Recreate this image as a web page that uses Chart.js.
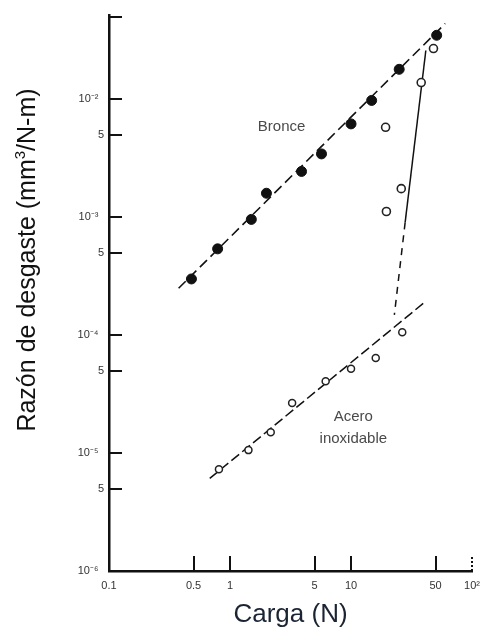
<!DOCTYPE html>
<html>
<head>
<meta charset="utf-8">
<script src="https://cdn.jsdelivr.net/npm/chart.js@4.4.1/dist/chart.umd.min.js"></script>
<style>
    html, body { margin: 0; padding: 0; background: #fff; }
    #grafico { display: block; }
</style>
</head>
<body>
<canvas id="grafico" width="488" height="630"></canvas>
<script>
// Bronce: puntos llenos (carga en N, razón de desgaste en mm3/N-m)
const bronceCarga = [0.48, 0.79, 1.5, 2.0, 3.9, 5.7, 10, 14.8, 25, 51];
const bronceDesgaste = [3.0e-4, 5.4e-4, 9.6e-4, 1.6e-3, 2.45e-3, 3.45e-3, 6.2e-3, 9.8e-3, 1.8e-2, 3.5e-2];
// Bronce: recta de ajuste a trazos
const bronceAjusteCarga = [0.376, 60];
const bronceAjusteDesgaste = [2.5e-4, 4.4e-2];

// Puntos huecos de la transición
const transicionCarga = [19.3, 19.6, 26, 38, 48];
const transicionDesgaste = [5.8e-3, 1.12e-3, 1.75e-3, 1.39e-2, 2.7e-2];
// Línea de transición (tramo continuo arriba, a trazos abajo)
const transicionLineaCarga = [41.5, 28, 22.8];
const transicionLineaDesgaste = [2.6e-2, 9.06e-4, 1.49e-4];

// Acero inoxidable
const aceroCarga = [0.81, 1.42, 2.17, 3.26, 6.17, 10, 16, 26.5];
const aceroDesgaste = [7.3e-6, 1.06e-5, 1.5e-5, 2.66e-5, 4.06e-5, 5.2e-5, 6.4e-5, 1.06e-4];
const aceroAjusteCarga = [0.68, 41.5];
const aceroAjusteDesgaste = [6.1e-6, 1.94e-4];

// Marcas de los ejes
const xTicks = [0.1, 0.5, 1, 5, 10, 50, 100];
const xTickLabels = ['0.1', '0.5', '1', '5', '10', '50', '10²'];
const yTicks = [1e-6, 5e-6, 1e-5, 5e-5, 1e-4, 5e-4, 1e-3, 5e-3, 1e-2, 5e-2];
const yTickLabels = ['10⁻⁶', '5', '10⁻⁵', '5', '10⁻⁴', '5', '10⁻³', '5', '10⁻²', ''];

// Etiquetas dentro del gráfico
const etiquetas = ['Bronce', 'Acero', 'inoxidable'];
const etiquetasCarga = [2.67, 10.45, 10.45];
const etiquetasDesgaste = [5.8e-3, 2.02e-5, 1.32e-5];

const fuente = '"Liberation Sans", Arial, sans-serif';
Chart.defaults.font.family = fuente;

function puntos(xs, ys) {
    return xs.map((x, i) => ({ x: x, y: ys[i] }));
}

// Marcas hacia dentro, textos del gráfico y título del eje Y
const marcasInternas = {
    id: 'marcasInternas',
    afterDraw(chart) {
        const ctx = chart.ctx;
        const sx = chart.scales.x;
        const sy = chart.scales.y;
        const area = chart.chartArea;
        ctx.save();
        ctx.strokeStyle = '#111';
        ctx.lineWidth = 2;
        xTicks.forEach(v => {
            if (v === xTicks[0]) return;
            const px = Math.round(sx.getPixelForValue(v));
            ctx.setLineDash(v === 100 ? [2, 2] : []);
            ctx.beginPath();
            ctx.moveTo(px, area.bottom);
            ctx.lineTo(px, area.bottom - 15);
            ctx.stroke();
        });
        ctx.setLineDash([]);
        yTicks.forEach(v => {
            if (v === yTicks[0]) return;
            const py = Math.round(sy.getPixelForValue(v));
            ctx.beginPath();
            ctx.moveTo(area.left, py);
            ctx.lineTo(area.left + 13, py);
            ctx.stroke();
        });

        ctx.fillStyle = '#4a4a4a';
        ctx.font = '15px ' + fuente;
        ctx.textAlign = 'center';
        ctx.textBaseline = 'middle';
        etiquetas.forEach((t, i) => {
            ctx.fillText(t, sx.getPixelForValue(etiquetasCarga[i]), sy.getPixelForValue(etiquetasDesgaste[i]));
        });

        // título del eje Y con el 3 en superíndice
        const parte1 = 'Razón de desgaste (mm';
        const parte2 = '3';
        const parte3 = '/N-m)';
        ctx.fillStyle = '#111';
        ctx.textAlign = 'left';
        ctx.textBaseline = 'alphabetic';
        ctx.font = '25px ' + fuente;
        const w1 = ctx.measureText(parte1).width;
        const w3 = ctx.measureText(parte3).width;
        ctx.font = '15px ' + fuente;
        const w2 = ctx.measureText(parte2).width;
        const total = w1 + w2 + w3;
        ctx.translate(35, 260);
        ctx.rotate(-Math.PI / 2);
        let x0 = -total / 2;
        ctx.font = '25px ' + fuente;
        ctx.fillText(parte1, x0, 0);
        ctx.font = '15px ' + fuente;
        ctx.fillText(parte2, x0 + w1, -10);
        ctx.font = '25px ' + fuente;
        ctx.fillText(parte3, x0 + w1 + w2, 0);
        ctx.restore();
    }
};

const ctx = document.getElementById('grafico').getContext('2d');
new Chart(ctx, {
    type: 'scatter',
    data: {
        datasets: [
            {
                label: 'Bronce',
                data: puntos(bronceCarga, bronceDesgaste),
                pointRadius: 5,
                pointBackgroundColor: '#111',
                pointBorderColor: '#111',
                pointBorderWidth: 1
            },
            {
                label: 'Transición',
                data: puntos(transicionCarga, transicionDesgaste),
                pointRadius: 4,
                pointBackgroundColor: '#fff',
                pointBorderColor: '#222',
                pointBorderWidth: 1.6
            },
            {
                label: 'Acero inoxidable',
                data: puntos(aceroCarga, aceroDesgaste),
                pointRadius: 3.5,
                pointBackgroundColor: '#fff',
                pointBorderColor: '#222',
                pointBorderWidth: 1.5
            },
            {
                label: 'Ajuste bronce',
                data: puntos(bronceAjusteCarga, bronceAjusteDesgaste),
                showLine: true,
                borderColor: '#111',
                borderWidth: 1.6,
                borderDash: [10, 5],
                pointRadius: 0
            },
            {
                label: 'Línea transición',
                data: puntos(transicionLineaCarga, transicionLineaDesgaste),
                showLine: true,
                borderColor: '#111',
                borderWidth: 1.5,
                pointRadius: 0,
                segment: {
                    borderDash: c => c.p0DataIndex === 0 ? [] : [7, 6]
                }
            },
            {
                label: 'Ajuste acero',
                data: puntos(aceroAjusteCarga, aceroAjusteDesgaste),
                showLine: true,
                borderColor: '#111',
                borderWidth: 1.5,
                borderDash: [10, 4],
                pointRadius: 0
            }
        ]
    },
    options: {
        responsive: false,
        animation: false,
        layout: { padding: { top: 15, right: 15, bottom: 0, left: 0 } },
        scales: {
            x: {
                type: 'logarithmic',
                position: 'bottom',
                min: 0.1,
                max: 100,
                afterBuildTicks: scale => { scale.ticks = xTicks.map(v => ({ value: v })); },
                afterFit: scale => { scale.height = 59; },
                grid: { drawOnChartArea: false, drawTicks: false },
                border: { display: true, color: '#111', width: 2.5 },
                ticks: {
                    autoSkip: false,
                    maxRotation: 0,
                    minRotation: 0,
                    padding: 8,
                    color: '#333',
                    font: { size: 11 },
                    callback: (v, i) => xTickLabels[i]
                },
                title: {
                    display: true,
                    text: 'Carga (N)',
                    color: '#1b2433',
                    font: { size: 26 },
                    padding: { top: 0, bottom: 0 }
                }
            },
            y: {
                type: 'logarithmic',
                position: 'left',
                min: 1e-6,
                max: 0.052,
                afterBuildTicks: scale => { scale.ticks = yTicks.map(v => ({ value: v })); },
                afterFit: scale => { scale.width = 109; },
                grid: { drawOnChartArea: false, drawTicks: false },
                border: { display: true, color: '#111', width: 2.5 },
                ticks: {
                    autoSkip: false,
                    padding: 5,
                    color: '#333',
                    font: { size: 11 },
                    callback: (v, i) => yTickLabels[i] === '5' ? '5' : yTickLabels[i] + '\u2002'
                }
            }
        },
        plugins: {
            legend: { display: false },
            tooltip: { enabled: false }
        }
    },
    plugins: [marcasInternas]
});
</script>
</body>
</html>
